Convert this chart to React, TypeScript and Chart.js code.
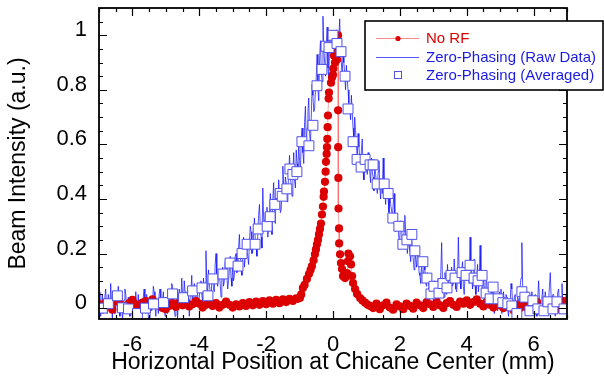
import { useEffect, useRef } from 'react';
import { Chart, registerables } from 'chart.js';
Chart.register(...registerables);

const FONT = "'Liberation Sans', Arial, sans-serif";

const X_MIN = -7;
const X_MAX = 7;
const Y_MIN = -0.04;
const Y_MAX = 1.1;
const xTicks = [-6, -4, -2, 0, 2, 4, 6];
const xTickLabels = ['-6', '-4', '-2', '0', '2', '4', '6'];
const yTicks = [0, 0.2, 0.4, 0.6, 0.8, 1];
const yTickLabels = ['0', '0.2', '0.4', '0.6', '0.8', '1'];

const xTitle = 'Horizontal Position at Chicane Center (mm)';
const yTitle = 'Beam Intensity (a.u.)';
const seriesNames = ['No RF', 'Zero-Phasing (Raw Data)', 'Zero-Phasing (Averaged)'];

// "No RF" series
const noRfX = [
  -7.0, -6.9, -6.8, -6.7, -6.6, -6.5, -6.4, -6.3, -6.2, -6.1,
  -6.0, -5.9, -5.8, -5.7, -5.6, -5.5, -5.4, -5.3, -5.2, -5.1,
  -5.0, -4.9, -4.8, -4.7, -4.6, -4.5, -4.4, -4.3, -4.2, -4.1,
  -4.0, -3.9, -3.8, -3.7, -3.6, -3.5, -3.4, -3.3, -3.2, -3.1,
  -3.0, -2.9, -2.8, -2.7, -2.6, -2.5, -2.4, -2.3, -2.2, -2.1,
  -2.0, -1.9, -1.8, -1.7, -1.6, -1.5, -1.4, -1.3, -1.2, -1.1,
  -1.05, -0.99, -0.95, -0.9, -0.85, -0.78, -0.72, -0.67, -0.63, -0.58,
  -0.54, -0.51, -0.48, -0.45, -0.42, -0.39, -0.36, -0.33, -0.3, -0.28,
  -0.27, -0.24, -0.22, -0.21, -0.19, -0.18, -0.17, -0.16, -0.15, -0.13,
  -0.12, -0.06, -0.03, 0.0, 0.01, 0.03, 0.06, 0.09, 0.12, 0.13,
  0.15, 0.152, 0.155, 0.16, 0.165, 0.18, 0.185, 0.21, 0.24, 0.27,
  0.3, 0.36, 0.42, 0.45, 0.46, 0.51, 0.54, 0.57, 0.6, 0.66,
  0.72, 0.81, 0.88, 0.96, 1.04, 1.11,
  1.2, 1.3, 1.4, 1.5, 1.6, 1.7, 1.8, 1.9, 2.0, 2.1,
  2.2, 2.3, 2.4, 2.5, 2.6, 2.7, 2.8, 2.9, 3.0, 3.1,
  3.2, 3.3, 3.4, 3.5, 3.6, 3.7, 3.8, 3.9, 4.0, 4.1,
  4.2, 4.3, 4.4, 4.5, 4.6, 4.7, 4.8, 4.9, 5.0, 5.1,
  5.2, 5.3, 5.4, 5.5, 5.6, 5.7, 5.8, 5.9, 6.0, 6.1,
  6.2, 6.3, 6.4, 6.5, 6.6, 6.7, 6.8, 6.9, 7.0,
];
const noRfY = [
  0.015, -0.004, 0.02, 0.006, -0.006, 0.024, 0.028, 0.01, 0.0, 0.018,
  0.03, 0.014, -0.002, 0.02, 0.026, 0.008, 0.032, 0.02, 0.01, 0.0,
  -0.004, 0.008, 0.018, 0.004, 0.02, 0.01, 0.024, 0.006, 0.014, 0.026,
  0.016, 0.002, 0.012, 0.024, 0.008, 0.018, 0.002, 0.012, 0.024, 0.012,
  0.002, 0.014, 0.006, 0.018, 0.008, 0.022, 0.01, 0.024, 0.012, 0.026,
  0.014, 0.028, 0.016, 0.03, 0.018, 0.032, 0.022, 0.034, 0.026, 0.036,
  0.034, 0.037, 0.05, 0.074, 0.085, 0.107, 0.125, 0.14, 0.154, 0.175,
  0.197, 0.215, 0.234, 0.25, 0.27, 0.29, 0.31, 0.343, 0.372, 0.408,
  0.427, 0.463, 0.5, 0.536, 0.565, 0.59, 0.62, 0.663, 0.706, 0.768,
  0.79, 0.826, 0.845, 0.855, 0.878, 0.925, 0.9, 0.943, 0.91, 0.98,
  1.0, 0.725, 0.59, 0.477, 0.365, 0.292, 0.237, 0.197, 0.165, 0.143,
  0.117, 0.11, 0.128, 0.172, 0.2, 0.19, 0.16, 0.117, 0.092, 0.07,
  0.052, 0.037, 0.028, 0.02, 0.012, 0.008,
  0.0, 0.016, -0.004, 0.01, 0.02, 0.002, -0.006, 0.014, 0.006, -0.004,
  0.016, 0.008, -0.002, 0.02, 0.01, 0.0, 0.022, 0.014, 0.004, 0.024,
  0.01, 0.0, 0.018, 0.026, 0.012, 0.004, 0.024, 0.016, 0.028, 0.012,
  0.022, 0.032, 0.016, 0.006, 0.024, 0.012, 0.002, 0.02, 0.01, 0.0,
  0.016, 0.004, -0.008, 0.012, 0.0, 0.018, 0.002, -0.01, 0.008, 0.022,
  0.0, -0.008, 0.012, 0.024, 0.004, -0.004, 0.018, 0.026, 0.01,
];

// "Zero-Phasing (Raw Data)" series, sampled every 0.025 mm from -7 mm
const rawStart = -7;
const rawStep = 0.025;
const rawY = [
  0.02, 0.06, -0.03, 0.01, 0.05, -0.02, 0.0, 0.04, 0.07, 0.01, -0.02, 0.05, 0.03, -0.01, 0.09, 0.02, -0.04, 0.06, 0.02, -0.02,
  0.06, 0.03, -0.01, 0.08, 0.04, -0.03, 0.0, 0.05, -0.05, 0.01, 0.03, 0.07, 0.05, 0.0, -0.02, 0.04, 0.01, -0.03, 0.04, 0.02,
  -0.03, 0.04, 0.02, -0.02, 0.06, 0.01, 0.0, 0.05, -0.04, 0.02, 0.03, -0.02, 0.01, 0.04, 0.07, 0.0, -0.02, 0.05, 0.02, -0.03,
  -0.05, 0.03, 0.04, -0.01, 0.0, 0.08, 0.06, 0.01, -0.03, 0.03, 0.02, -0.02, 0.05, 0.07, -0.01, 0.02, 0.03, 0.06, 0.0, -0.03,
  0.04, 0.0, -0.02, 0.05, 0.06, 0.02, 0.01, 0.09, 0.08, 0.03, 0.0, -0.03, 0.03, 0.07, -0.04, 0.02, 0.07, 0.04, 0.02, 0.11,
  0.05, 0.0, 0.1, 0.06, 0.0, 0.03, 0.04, 0.08, -0.03, 0.01, 0.06, 0.12, 0.02, 0.05, 0.09, 0.04, 0.03, 0.07, 0.05, 0.02,
  0.04, 0.08, 0.1, 0.05, 0.02, 0.11, 0.07, 0.03, 0.21, 0.09, 0.05, 0.14, 0.09, 0.06, 0.03, 0.1, 0.12, 0.07, 0.06, 0.16,
  0.2, 0.1, 0.08, 0.13, 0.13, 0.09, 0.04, 0.11, 0.15, 0.08, 0.1, 0.17, 0.18, 0.12, 0.07, 0.1, 0.14, 0.19, 0.11, 0.08,
  0.16, 0.1, 0.12, 0.19, 0.2, 0.13, 0.14, 0.22, 0.27, 0.18, 0.17, 0.12, 0.22, 0.26, 0.15, 0.19, 0.25, 0.21, 0.19, 0.16,
  0.24, 0.3, 0.28, 0.2, 0.21, 0.27, 0.33, 0.25, 0.23, 0.19, 0.27, 0.34, 0.38, 0.3, 0.26, 0.22, 0.44, 0.33, 0.29, 0.35,
  0.31, 0.37, 0.26, 0.3, 0.35, 0.42, 0.3, 0.27, 0.4, 0.46, 0.34, 0.31, 0.44, 0.38, 0.37, 0.47, 0.41, 0.35, 0.36, 0.43,
  0.52, 0.44, 0.4, 0.48, 0.46, 0.39, 0.42, 0.5, 0.56, 0.48, 0.45, 0.41, 0.5, 0.57, 0.47, 0.44, 0.58, 0.53, 0.51, 0.6,
  0.54, 0.5, 0.62, 0.66, 0.57, 0.53, 0.68, 0.74, 0.6, 0.66, 0.72, 0.77, 0.64, 0.6, 0.7, 0.82, 0.78, 0.72, 0.73, 0.8,
  0.85, 0.93, 0.8, 0.76, 0.92, 0.98, 0.86, 0.83, 1.07, 0.95, 0.9, 0.85, 0.96, 1.03, 0.88, 0.84, 1.0, 0.95, 0.93, 0.98,
  0.97, 1.01, 0.92, 0.88, 1.02, 0.97, 0.95, 0.99, 1.06, 0.96, 0.9, 0.85, 0.94, 0.9, 0.86, 0.8, 0.89, 0.84, 0.8, 0.75,
  0.74, 0.69, 0.78, 0.72, 0.66, 0.62, 0.7, 0.65, 0.6, 0.55, 0.64, 0.59, 0.55, 0.5, 0.58, 0.62, 0.5, 0.47, 0.56, 0.53,
  0.52, 0.49, 0.57, 0.53, 0.5, 0.46, 0.55, 0.5, 0.48, 0.43, 0.53, 0.49, 0.46, 0.42, 0.5, 0.54, 0.44, 0.4, 0.47, 0.42,
  0.55, 0.47, 0.43, 0.38, 0.45, 0.41, 0.4, 0.35, 0.42, 0.38, 0.36, 0.33, 0.38, 0.42, 0.31, 0.28, 0.34, 0.3, 0.29, 0.25,
  0.26, 0.32, 0.3, 0.24, 0.22, 0.28, 0.34, 0.25, 0.24, 0.2, 0.27, 0.23, 0.21, 0.17, 0.26, 0.21, 0.18, 0.14, 0.22, 0.18,
  0.15, 0.2, 0.19, 0.13, 0.12, 0.09, 0.17, 0.12, 0.1, 0.16, 0.14, 0.09, 0.08, 0.13, 0.12, 0.06, 0.06, 0.11, 0.1, 0.05,
  0.05, 0.1, 0.09, 0.02, 0.03, 0.08, 0.11, 0.05, 0.06, 0.13, 0.24, 0.1, 0.08, 0.04, 0.13, 0.09, 0.05, 0.16, 0.1, 0.06,
  0.07, 0.12, 0.15, 0.08, 0.09, 0.18, 0.12, 0.07, 0.06, 0.11, 0.26, 0.13, 0.1, 0.07, 0.14, 0.17, 0.08, 0.05, 0.12, 0.15,
  0.1, 0.14, 0.16, 0.09, 0.26, 0.13, 0.11, 0.07, 0.14, 0.18, 0.08, 0.05, 0.12, 0.16, 0.06, 0.1, 0.23, 0.11, 0.09, 0.04,
  0.13, 0.08, 0.05, 0.1, 0.1, 0.02, 0.04, 0.08, 0.08, 0.03, 0.02, 0.07, 0.06, -0.02, 0.0, 0.05, 0.04, -0.01, 0.02, 0.06,
  0.03, 0.07, -0.02, 0.01, 0.06, 0.02, 0.01, 0.05, 0.04, 0.0, -0.03, 0.02, 0.02, 0.09, 0.07, 0.01, 0.0, 0.04, 0.05, -0.02,
  -0.01, 0.04, 0.03, 0.0, 0.08, 0.11, 0.24, 0.06, 0.02, -0.01, 0.05, 0.03, -0.02, 0.06, 0.04, 0.0, 0.01, 0.05, 0.06, 0.02,
  0.0, 0.04, 0.05, -0.02, -0.03, 0.03, 0.1, 0.04, 0.02, 0.0, 0.04, 0.07, -0.02, 0.02, 0.06, 0.01, 0.01, -0.02, 0.03, 0.08,
  0.13, 0.04, 0.0, 0.05, 0.05, -0.01, -0.03, 0.03, 0.02, 0.06, 0.07, 0.0, 0.0, 0.04, 0.09, 0.02, 0.03, -0.01, 0.01, 0.05,
  0.02,
];

// "Zero-Phasing (Averaged)" series
const avgX = [
  -6.9, -6.72, -6.45, -6.3, -6.12, -5.85, -5.61, -5.37, -5.07, -4.8,
  -4.47, -4.2, -3.92, -3.74, -3.59, -3.29, -3.08, -2.84, -2.72, -2.57,
  -2.33, -2.24, -1.97, -1.88, -1.74, -1.58, -1.52, -1.38, -1.29, -1.2,
  -1.08, -0.93, -0.72, -0.6, -0.48, -0.33, -0.21, -0.12, 0.0, 0.12,
  0.24, 0.36, 0.45, 0.6, 0.72, 0.84, 0.96, 1.11, 1.2, 1.32,
  1.53, 1.65, 1.79, 1.97, 2.09, 2.21, 2.36, 2.45, 2.69, 2.81,
  2.93, 3.02, 3.17, 3.29, 3.41, 3.53, 3.65, 3.86, 3.98, 4.1,
  4.22, 4.34, 4.46, 4.58, 4.7, 4.79, 4.94, 5.08, 5.23, 5.35,
  5.5, 5.65, 5.74, 5.89, 5.98, 6.13, 6.31, 6.43, 6.58, 6.7,
  6.91,
];
const avgY = [
  0.0, 0.016, 0.045, 0.001, -0.003, -0.02, 0.0, 0.015, 0.02, 0.052,
  0.038, 0.063, 0.074, 0.045, 0.107, 0.125, 0.165, 0.154, 0.2, 0.234,
  0.234, 0.29, 0.3, 0.335, 0.38, 0.42, 0.41, 0.437, 0.51, 0.49,
  0.5, 0.61, 0.595, 0.67, 0.815, 0.875, 0.96, 0.955, 1.0, 0.97,
  0.94, 0.85, 0.73, 0.61, 0.545, 0.517, 0.545, 0.525, 0.525, 0.455,
  0.455, 0.42, 0.33, 0.3, 0.234, 0.25, 0.27, 0.21, 0.17, 0.11,
  0.052, 0.08, 0.055, 0.09, 0.074, 0.12, 0.11, 0.13, 0.12, 0.157,
  0.11, 0.1, 0.12, 0.055, 0.034, 0.077, 0.034, 0.02, 0.016, 0.008,
  -0.02, 0.06, 0.04, -0.01, 0.027, -0.003, -0.01, 0.023, -0.003, 0.023,
  -0.003,
];

const RED = '#dc0000';
const BLUE_LINE = 'rgba(10,10,255,0.7)';
const BLUE_SQ = 'rgb(80,80,235)';

const frameTicksPlugin = {
  id: 'frameTicks',
  afterDatasetsDraw(chart: any) {
    const { ctx, chartArea: a, scales } = chart;
    const xs = scales.x;
    const ys = scales.y;
    ctx.save();
    ctx.strokeStyle = '#000';
    ctx.lineWidth = 1.2;
    ctx.beginPath();
    const MAJ = 8;
    const MIN = 4;
    for (let k = -14; k <= 14; k++) {
      const v = k * 0.5;
      const px = Math.round(xs.getPixelForValue(v)) + 0.5;
      const len = k % 4 === 0 ? MAJ : MIN;
      ctx.moveTo(px, a.bottom);
      ctx.lineTo(px, a.bottom - len);
      ctx.moveTo(px, a.top);
      ctx.lineTo(px, a.top + len);
    }
    for (let k = 0; k <= 22; k++) {
      const v = k * 0.05;
      if (v > Y_MAX) break;
      const py = Math.round(ys.getPixelForValue(v)) + 0.5;
      const len = k % 4 === 0 ? MAJ : MIN;
      ctx.moveTo(a.left, py);
      ctx.lineTo(a.left + len, py);
      ctx.moveTo(a.right, py);
      ctx.lineTo(a.right - len, py);
    }
    ctx.stroke();
    ctx.lineWidth = 1.8;
    ctx.strokeRect(a.left, a.top, a.right - a.left, a.bottom - a.top);
    ctx.restore();
  },
  afterDraw(chart: any) {
    const { ctx } = chart;
    ctx.save();
    const bx = 365;
    const by = 21;
    const bw = 238;
    const bh = 69;
    ctx.fillStyle = '#fff';
    ctx.fillRect(bx, by, bw, bh);
    ctx.strokeStyle = '#000';
    ctx.lineWidth = 1.6;
    ctx.strokeRect(bx, by, bw, bh);
    const rows = [38, 57, 75];
    const lx0 = 376;
    const lx1 = 419;
    const cx = 398;
    ctx.strokeStyle = 'rgba(240,60,60,0.6)';
    ctx.lineWidth = 1;
    ctx.beginPath();
    ctx.moveTo(lx0, rows[0] + 0.5);
    ctx.lineTo(lx1, rows[0] + 0.5);
    ctx.stroke();
    ctx.fillStyle = RED;
    ctx.beginPath();
    ctx.arc(cx, rows[0] + 0.5, 2.6, 0, Math.PI * 2);
    ctx.fill();
    ctx.strokeStyle = BLUE_LINE;
    ctx.beginPath();
    ctx.moveTo(lx0, rows[1] + 0.5);
    ctx.lineTo(lx1, rows[1] + 0.5);
    ctx.stroke();
    ctx.strokeStyle = BLUE_SQ;
    ctx.fillStyle = '#fff';
    ctx.fillRect(cx - 3.5, rows[2] - 3.5, 7, 7);
    ctx.strokeRect(cx - 3.5, rows[2] - 3.5, 7, 7);
    ctx.font = `15px ${FONT}`;
    ctx.textBaseline = 'middle';
    ctx.textAlign = 'left';
    ctx.fillStyle = '#e00000';
    ctx.fillText(seriesNames[0], 426, rows[0] + 1);
    ctx.fillStyle = '#1c1ce0';
    ctx.fillText(seriesNames[1], 426, rows[1] + 1);
    ctx.fillText(seriesNames[2], 426, rows[2] + 1);
    ctx.restore();
  },
};

export default function App() {
  const ref = useRef<HTMLCanvasElement | null>(null);
  useEffect(() => {
    document.body.style.margin = '0';
    const canvas = ref.current;
    if (!canvas) return;
    const noRf = noRfX.map((x, i) => ({ x, y: noRfY[i] }));
    const raw = rawY.map((y, i) => ({ x: rawStart + i * rawStep, y }));
    const avg = avgX.map((x, i) => ({ x, y: avgY[i] }));
    const chart = new Chart(canvas, {
      type: 'scatter',
      data: {
        datasets: [
          {
            label: seriesNames[2],
            data: avg,
            showLine: false,
            pointStyle: 'rect',
            pointRadius: 7,
            pointBackgroundColor: '#ffffff',
            pointBorderColor: BLUE_SQ,
            pointBorderWidth: 1,
            order: 0,
          },
          {
            label: seriesNames[0],
            data: noRf,
            showLine: true,
            pointRadius: 4.1,
            pointBackgroundColor: RED,
            pointBorderWidth: 0,
            borderColor: 'rgba(240,60,60,0.45)',
            borderWidth: 1,
            order: 1,
          },
          {
            label: seriesNames[1],
            data: raw,
            showLine: true,
            pointRadius: 0,
            borderColor: BLUE_LINE,
            borderWidth: 1,
            order: 2,
          },
        ],
      },
      options: {
        animation: false,
        responsive: false,
        devicePixelRatio: 1,
        events: [],
        layout: { padding: { top: 5, right: 37, left: 0, bottom: 0 } },
        plugins: { legend: { display: false }, tooltip: { enabled: false } },
        scales: {
          x: {
            type: 'linear',
            min: X_MIN,
            max: X_MAX,
            afterBuildTicks: (s: any) => {
              s.ticks = xTicks.map((v) => ({ value: v }));
            },
            afterFit: (s: any) => {
              s.height = 59;
              s.paddingLeft = 0;
              s.paddingRight = 0;
            },
            ticks: {
              callback: (v: any) => xTickLabels[xTicks.indexOf(v)],
              font: { family: FONT, size: 22 },
              color: '#000',
              padding: 13,
              maxRotation: 0,
              autoSkip: false,
            },
            grid: { display: false, drawTicks: false },
            border: { display: false },
            title: {
              display: true,
              text: xTitle,
              font: { family: FONT, size: 23 },
              color: '#000',
              padding: { top: 0, bottom: 2 },
            },
          },
          y: {
            type: 'linear',
            min: Y_MIN,
            max: Y_MAX,
            afterBuildTicks: (s: any) => {
              s.ticks = yTicks.map((v) => ({ value: v }));
            },
            afterFit: (s: any) => {
              s.width = 99;
              s.paddingTop = 0;
              s.paddingBottom = 0;
            },
            ticks: {
              callback: (v: any) => yTickLabels[yTicks.indexOf(v)],
              font: { family: FONT, size: 22 },
              color: '#000',
              padding: 12,
              labelOffset: -5,
              autoSkip: false,
            },
            grid: { display: false, drawTicks: false },
            border: { display: false },
            title: {
              display: true,
              text: yTitle,
              font: { family: FONT, size: 23 },
              color: '#000',
              padding: { top: 5, bottom: 0 },
            },
          },
        },
      },
      plugins: [frameTicksPlugin],
    });
    return () => chart.destroy();
  }, []);
  return (
    <div style={{ position: 'absolute', left: 0, top: 0, width: 604, height: 378, background: '#fff' }}>
      <canvas ref={ref} width={604} height={378} style={{ display: 'block', width: 604, height: 378 }} />
    </div>
  );
}
